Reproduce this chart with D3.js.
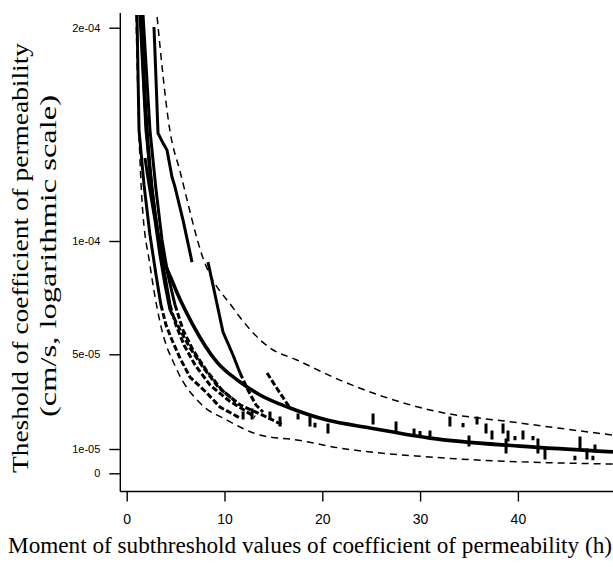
<!DOCTYPE html>
<html><head><meta charset="utf-8">
<script src="https://cdn.jsdelivr.net/npm/d3@7"></script>
<style>body{margin:0;background:#fff}svg{display:block}</style>
</head><body>
<svg id="chart" width="613" height="567"></svg>
<script>
// ---------------- data ----------------
const xTickValues = [0, 10, 20, 30, 40];
const yTickValues = [0, 1e-5, 5e-5, 1e-4, 2e-4];
const yTickLabels = ["0", "1e-05", "5e-05", "1e-04", "2e-04"];
const xTitle = "Moment of subthreshold values of coefficient of permeability (h)";
const yTitle1 = "Theshold of coefficient of permeability";
const yTitle2 = "(cm/s, logarithmic scale)";

// fitted curve (thick solid)
const fitX = [1.46, 1.87, 2.38, 2.89, 3.4, 4.73, 6.78, 9.23, 11.59, 13.63, 16.7, 20.48, 24.88, 31.02, 40.21, 49.72];
const fitY = [20.6e-5, 16.61e-5, 13.33e-5, 11.22e-5, 9.82e-5, 8.15e-5, 6.29e-5, 4.67e-5, 3.83e-5, 3.28e-5, 2.73e-5, 2.22e-5, 1.89e-5, 1.46e-5, 1.12e-5, 0.88e-5];
// upper bound (dashed)
const upX = [3.11, 4.43, 5.45, 7.8, 10.87, 14.65, 17.4, 21.8, 31.0, 40.2, 49.7];
const upY = [20.5e-5, 15.14e-5, 13.27e-5, 9.25e-5, 7.05e-5, 5.28e-5, 4.76e-5, 3.91e-5, 2.65e-5, 2.1e-5, 1.59e-5];
// lower bound (dashed)
const loX = [0.95, 1.26, 1.56, 2.38, 3.4, 5.14, 7.5, 10.26, 13.63, 17.4, 21.8, 31.0, 49.7];
const loY = [20.6e-5, 15.06e-5, 11.92e-5, 8.94e-5, 6.43e-5, 4.34e-5, 2.94e-5, 2.22e-5, 1.59e-5, 1.38e-5, 1.04e-5, 0.67e-5, 0.38e-5];

// observed threshold series: dense (continuous) parts
const seriesA = [[2.79,20.03e-5],[3.0,17.55e-5],[3.2,15.06e-5],[3.71,14.59e-5],[4.12,14.27e-5],[4.63,13.0e-5],[4.94,12.53e-5],[5.76,10.98e-5],[6.68,9.07e-5]];
const seriesB = [[8.31,9.07e-5],[8.82,8.06e-5],[9.85,5.98e-5],[10.87,4.97e-5],[11.59,4.21e-5]];
const seriesK1 = [[1.05,20.6e-5],[1.26,15.2e-5],[1.77,12.63e-5],[2.38,10.28e-5],[3.0,8.5e-5],[3.5,7.18e-5]];
const seriesK2 = [[1.36,20.6e-5],[1.97,15.2e-5],[2.59,12.39e-5],[3.2,10.28e-5],[3.81,8.72e-5],[4.43,7.18e-5]];
const seriesK3 = [[1.67,20.6e-5],[2.38,15.2e-5],[3.0,12.39e-5],[3.61,10.05e-5],[4.22,8.5e-5],[4.94,7.18e-5]];
const seriesK4 = [[1.87,13.89e-5],[2.28,12.63e-5],[2.89,10.98e-5],[3.4,9.38e-5],[3.92,8.06e-5],[4.43,6.96e-5]];
// observed threshold series: stepped (sparse) parts
const stepsB = [[11.59,4.21e-5],[12.4,3.49e-5],[13.22,2.86e-5],[13.94,2.56e-5]];
const stepsC = [[14.35,4.21e-5],[15.47,3.49e-5],[16.7,2.73e-5]];
const stepsK1 = [[3.5,7.18e-5],[4.02,6.29e-5],[4.63,5.63e-5],[5.45,4.84e-5],[6.47,4.04e-5],[8.21,3.36e-5],[9.54,2.77e-5],[11.59,2.31e-5]];
const stepsK2 = [[4.43,7.18e-5],[5.04,6.29e-5],[5.86,5.41e-5],[6.99,4.55e-5],[8.52,3.7e-5],[10.36,3.07e-5],[13.12,2.35e-5]];
const stepsK3 = [[4.94,7.18e-5],[5.76,6.07e-5],[6.78,5.19e-5],[8.11,4.34e-5],[9.74,3.49e-5],[11.59,2.86e-5],[13.84,2.44e-5],[15.98,2.01e-5]];
const stepsK4 = [[4.43,6.96e-5],[5.35,6.16e-5],[6.47,5.28e-5],[7.8,4.46e-5],[9.34,3.62e-5],[11.18,2.98e-5]];

// isolated observations: time, upper and lower value of each short bar
const obsX  = [11.9, 12.82, 14.65, 15.68, 17.52, 18.74, 19.25, 20.58, 25.19, 27.54, 29.38, 29.99, 31.01, 33.05, 34.39, 35.0, 35.82, 36.74, 37.35, 38.48, 38.79, 38.99, 39.7, 40.52, 41.54, 42.05, 42.77, 45.83, 46.35, 47.06, 47.67, 47.88];
const obsHi = [2.52e-5, 2.65e-5, 2.52e-5, 2.31e-5, 2.44e-5, 2.31e-5, 2.05e-5, 2.01e-5, 2.44e-5, 2.10e-5, 1.80e-5, 1.70e-5, 1.72e-5, 2.31e-5, 2.04e-5, 1.51e-5, 2.31e-5, 2.01e-5, 1.72e-5, 2.01e-5, 1.38e-5, 1.72e-5, 1.49e-5, 1.72e-5, 1.49e-5, 1.38e-5, 0.96e-5, 0.66e-5, 1.46e-5, 0.96e-5, 0.66e-5, 1.13e-5];
const obsLo = [2.31e-5, 2.31e-5, 2.31e-5, 2.01e-5, 2.31e-5, 2.01e-5, 1.97e-5, 1.72e-5, 2.10e-5, 1.80e-5, 1.59e-5, 1.64e-5, 1.46e-5, 2.01e-5, 1.98e-5, 1.17e-5, 2.10e-5, 1.72e-5, 1.46e-5, 1.72e-5, 0.88e-5, 1.38e-5, 1.43e-5, 1.46e-5, 1.43e-5, 0.88e-5, 0.63e-5, 0.60e-5, 1.08e-5, 0.63e-5, 0.60e-5, 0.92e-5];

// ---------------- layout ----------------
const svg = d3.select("#chart");
const plotLeft = 120.3, plotRight = 613, plotTop = 13, plotBottom = 491.5;

const x = d3.scaleLinear().domain([0, 40]).range([126.7, 517.9]);
const y = d3.scaleLinear().domain(yTickValues).range([473.3, 449, 354.3, 241, 27.7]);

svg.append("defs").append("clipPath").attr("id", "clip")
  .append("rect").attr("x", plotLeft).attr("y", 15)
  .attr("width", plotRight - plotLeft).attr("height", plotBottom - 15);

const g = svg.append("g").attr("clip-path", "url(#clip)");

const lineXY = d3.line().x(d => x(d[0])).y(d => y(d[1]));
const smooth = d3.line().x(d => x(d[0])).y(d => y(d[1])).curve(d3.curveMonotoneX);

// bounds
g.append("path").datum(d3.zip(upX, upY)).attr("d", smooth)
  .attr("fill", "none").attr("stroke", "#000").attr("stroke-width", 1.5).attr("stroke-dasharray", "7,5");
g.append("path").datum(d3.zip(loX, loY)).attr("d", smooth)
  .attr("fill", "none").attr("stroke", "#000").attr("stroke-width", 1.5).attr("stroke-dasharray", "7,5");

// dense parts
[seriesA, seriesB, seriesK1, seriesK2, seriesK3, seriesK4].forEach(s => {
  g.append("path").datum(s).attr("d", lineXY)
    .attr("fill", "none").attr("stroke", "#000").attr("stroke-width", 3).attr("stroke-linejoin", "round");
});
// stepped parts
[stepsB, stepsC, stepsK1, stepsK2, stepsK3, stepsK4].forEach(s => {
  g.append("path").datum(s).attr("d", lineXY)
    .attr("fill", "none").attr("stroke", "#000").attr("stroke-width", 3).attr("stroke-dasharray", "6,2.5");
});
// isolated bars
g.selectAll("line.obs").data(d3.range(obsX.length)).join("line").attr("class", "obs")
  .attr("x1", i => x(obsX[i])).attr("x2", i => x(obsX[i]))
  .attr("y1", i => y(obsHi[i])).attr("y2", i => y(obsLo[i]))
  .attr("stroke", "#000").attr("stroke-width", 3).attr("stroke-linecap", "square");

// fitted curve
g.append("path").datum(d3.zip(fitX, fitY)).attr("d", smooth)
  .attr("fill", "none").attr("stroke", "#000").attr("stroke-width", 3.6);

// ---------------- axes ----------------
svg.append("line").attr("x1", plotLeft).attr("x2", plotLeft).attr("y1", plotTop).attr("y2", plotBottom)
  .attr("stroke", "#000").attr("stroke-width", 1.4);
svg.append("line").attr("x1", plotLeft).attr("x2", plotRight).attr("y1", plotBottom).attr("y2", plotBottom)
  .attr("stroke", "#000").attr("stroke-width", 1.4);

const xAxis = svg.append("g").attr("transform", `translate(0,${plotBottom})`)
  .call(d3.axisBottom(x).tickValues(xTickValues).tickSize(10).tickPadding(13).tickFormat(d3.format("d")));
xAxis.select(".domain").remove();
xAxis.selectAll("line").attr("stroke-width", 1.4);
xAxis.selectAll("text").attr("font-family", "'Liberation Sans', Arial, Helvetica, sans-serif").attr("font-size", 14).attr("fill", "#000");

const yAxis = svg.append("g").attr("transform", `translate(${plotLeft},0)`)
  .call(d3.axisLeft(y).tickValues(yTickValues).tickSize(11).tickPadding(9).tickFormat((d, i) => yTickLabels[i]));
yAxis.select(".domain").remove();
yAxis.selectAll("line").attr("stroke-width", 1.4);
yAxis.selectAll("text").attr("font-family", "'Liberation Sans', Arial, Helvetica, sans-serif").attr("font-size", 11).attr("fill", "#000");

// ---------------- titles ----------------
const serif = "'Liberation Serif', 'Times New Roman', serif";
svg.append("text").attr("x", 8).attr("y", 553).text(xTitle)
  .attr("font-family", serif).attr("font-size", 22.5).attr("fill", "#000")
  .attr("textLength", 604).attr("lengthAdjust", "spacingAndGlyphs");
svg.append("text").attr("transform", "translate(28,258) rotate(-90)").attr("text-anchor", "middle").text(yTitle1)
  .attr("font-family", serif).attr("font-size", 23).attr("fill", "#000")
  .attr("textLength", 430).attr("lengthAdjust", "spacingAndGlyphs");
svg.append("text").attr("transform", "translate(56,256) rotate(-90)").attr("text-anchor", "middle").text(yTitle2)
  .attr("font-family", serif).attr("font-size", 23).attr("fill", "#000")
  .attr("textLength", 322).attr("lengthAdjust", "spacingAndGlyphs");
</script>
</body></html>
